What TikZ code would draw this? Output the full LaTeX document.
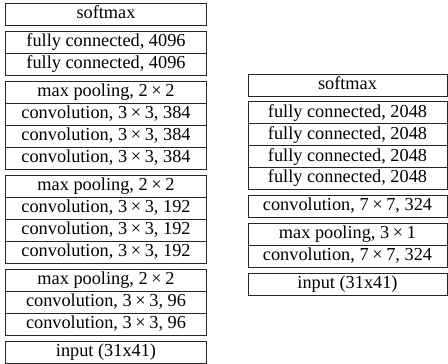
\documentclass[tikz,border=0pt]{standalone}
\usepackage{fontspec}
\setmainfont{Liberation Serif}
\newcommand{\by}{\hspace{0.2em}×\hspace{0.2em}}
\begin{document}
\begin{tikzpicture}[x=1pt,y=-1pt,
  layer/.style={draw=black!85, line width=0.8pt, anchor=north,
    minimum height=21.9pt, inner sep=0pt, text height=13pt, text depth=4pt,
    font=\fontsize{18.3}{20}\selectfont},
  leftlayer/.style={layer, minimum width=201pt},
  rightlayer/.style={layer, minimum width=199pt}]
\useasboundingbox (0,0) rectangle (448,364);

% left network
\node[leftlayer] (l1)  at (106,3.0)   {softmax};
\node[leftlayer] (l2)  at (106,31.1)  {fully connected, 4096};
\node[leftlayer] (l3)  at (106,53.0)  {fully connected, 4096};
\node[leftlayer] (l4)  at (106,81.1)  {max pooling, 2\by2};
\node[leftlayer] (l5)  at (106,103.0) {convolution, 3\by3, 384};
\node[leftlayer] (l6)  at (106,124.9) {convolution, 3\by3, 384};
\node[leftlayer] (l7)  at (106,146.8) {convolution, 3\by3, 384};
\node[leftlayer] (l8)  at (106,175.0) {max pooling, 2\by2};
\node[leftlayer] (l9)  at (106,196.9) {convolution, 3\by3, 192};
\node[leftlayer] (l10) at (106,218.8) {convolution, 3\by3, 192};
\node[leftlayer] (l11) at (106,240.7) {convolution, 3\by3, 192};
\node[leftlayer] (l12) at (106,268.9) {max pooling, 2\by2};
\node[leftlayer] (l13) at (106,290.8) {convolution, 3\by3, 96};
\node[leftlayer] (l14) at (106,312.7) {convolution, 3\by3, 96};
\node[leftlayer] (l15) at (106,340.8) {input (31x41)};

% right network
\node[rightlayer] (r1) at (347.5,74.0)  {softmax};
\node[rightlayer] (r2) at (347.5,101.4) {fully connected, 2048};
\node[rightlayer] (r3) at (347.5,123.3) {fully connected, 2048};
\node[rightlayer] (r4) at (347.5,145.2) {fully connected, 2048};
\node[rightlayer] (r5) at (347.5,167.1) {fully connected, 2048};
\node[rightlayer] (r6) at (347.5,195.0) {convolution, 7\by7, 324};
\node[rightlayer] (r7) at (347.5,222.9) {max pooling, 3\by1};
\node[rightlayer] (r8) at (347.5,244.8) {convolution, 7\by7, 324};
\node[rightlayer] (r9) at (347.5,272.7) {input (31x41)};
\end{tikzpicture}
\end{document}
